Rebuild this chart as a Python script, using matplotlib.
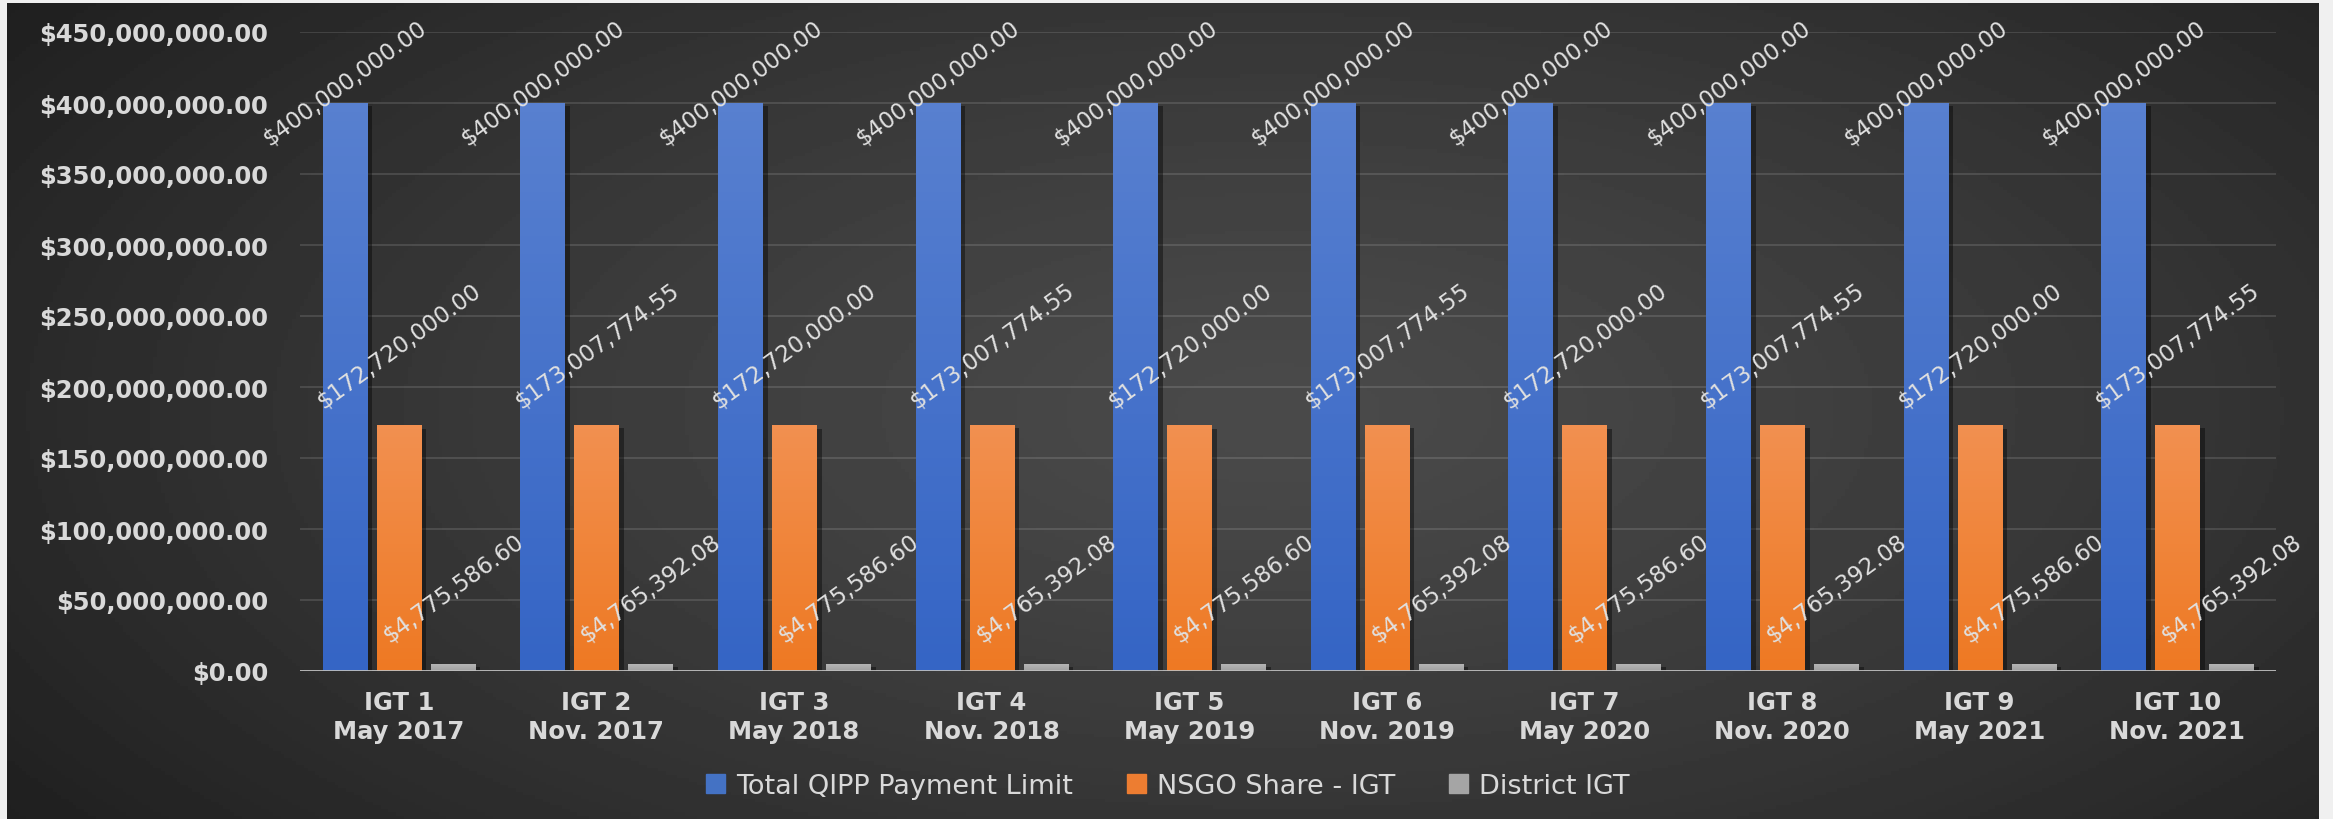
import matplotlib
matplotlib.use('Agg')
import numpy as np
import matplotlib.pyplot as plt
import matplotlib.patheffects as pe
from matplotlib.patches import Patch
from matplotlib.colors import LinearSegmentedColormap

# --- data ---
categories = ['IGT 1\nMay 2017', 'IGT 2\nNov. 2017', 'IGT 3\nMay 2018', 'IGT 4\nNov. 2018',
              'IGT 5\nMay 2019', 'IGT 6\nNov. 2019', 'IGT 7\nMay 2020', 'IGT 8\nNov. 2020',
              'IGT 9\nMay 2021', 'IGT 10\nNov. 2021']
total_limit = [400000000.00, 400000000.00, 400000000.00, 400000000.00, 400000000.00,
               400000000.00, 400000000.00, 400000000.00, 400000000.00, 400000000.00]
nsgo_share = [172720000.00, 173007774.55, 172720000.00, 173007774.55, 172720000.00,
              173007774.55, 172720000.00, 173007774.55, 172720000.00, 173007774.55]
district_igt = [4775586.60, 4765392.08, 4775586.60, 4765392.08, 4775586.60,
                4765392.08, 4775586.60, 4765392.08, 4775586.60, 4765392.08]
series_names = ['Total QIPP Payment Limit', 'NSGO Share - IGT', 'District IGT']
y_ticks = [0, 50000000, 100000000, 150000000, 200000000, 250000000,
           300000000, 350000000, 400000000, 450000000]

# --- style ---
W, H = 2333, 820
TXT = '#d9d9d9'
series = [
    (total_limit, '#4472c4', '#5880d0', '#3565c5', 15),
    (nsgo_share, '#ed7d31', '#f29050', '#ee7923', 58),
    (district_igt, '#a5a5a5', '#b5b5b5', '#a0a0a0', 55),
]
offsets = [-0.273, 0.0, 0.273]
bar_w = 0.223

fig = plt.figure(figsize=(W / 100, H / 100), dpi=100, facecolor='#f0f0f0')

# dark panel with a soft radial glow
bg = fig.add_axes([7 / W, 0, 2312 / W, 816 / H])
bg.axis('off')
yy, xx = np.mgrid[0:1:240j, 0:1:600j]
r = np.sqrt(((xx - 0.55) / 0.62) ** 2 + ((yy - 0.5) / 0.8) ** 2)
shade = np.clip(0.29 - 0.15 * r ** 1.3, 0.10, 1)
bg.imshow(shade, cmap='gray', vmin=0, vmax=1, extent=[0, 1, 0, 1], aspect='auto')
bg.set_xlim(0, 1); bg.set_ylim(0, 1)

ax = fig.add_axes([300 / W, 148 / H, 1976 / W, 639 / H])
ax.patch.set_alpha(0)
for s in ax.spines.values():
    s.set_visible(False)

x = np.arange(len(categories))
for (vals, col, c_top, c_bot, lab_off), off in zip(series, offsets):
    bars = ax.bar(x + off, vals, bar_w, color=col, zorder=3,
                  path_effects=[pe.SimplePatchShadow(offset=(4, -2), shadow_rgbFace='k', alpha=0.4),
                                pe.Normal()])
    cmap = LinearSegmentedColormap.from_list('g', [c_bot, c_top])
    grad = np.linspace(0, 1, 64).reshape(-1, 1)
    for b, v in zip(bars, vals):
        x0 = b.get_x()
        ax.imshow(grad, cmap=cmap, origin='lower', aspect='auto', zorder=3.5,
                  extent=[x0, x0 + b.get_width(), 0, b.get_height()])
        ax.annotate(f'${v:,.2f}', (x0 + b.get_width() / 2, v), xytext=(0, lab_off),
                    textcoords='offset points', ha='center', va='center', rotation=36,
                    rotation_mode='anchor', color='#e0e0e0', fontsize=16.5, zorder=5)

ax.set_xlim(-0.5, len(categories) - 0.5)
ax.set_ylim(0, 450000000)
ax.yaxis.grid(True, color='white', alpha=0.12, lw=1.5)
ax.set_axisbelow(True)
ax.axhline(0, color='#bfbfbf', lw=2, zorder=4)

ax.set_yticks(y_ticks, labels=[f'${v:,.2f}' for v in y_ticks], fontweight='bold', fontsize=17.5)
ax.set_xticks(x, labels=categories, fontweight='bold', linespacing=1.25, fontsize=17.5)
ax.tick_params(axis='both', length=0, colors=TXT)
ax.tick_params(axis='y', pad=23)
ax.tick_params(axis='x', pad=14)

handles = [Patch(color=s[1]) for s in series]
fig.legend(handles, series_names, loc='center', bbox_to_anchor=(1168 / W, 1 - 787 / H),
           ncol=3, frameon=False, fontsize=19.5, labelcolor=TXT, handlelength=0.7,
           handleheight=0.7, handletextpad=0.4, columnspacing=2.0)

fig.savefig('out.png', dpi=100, facecolor=fig.get_facecolor())
